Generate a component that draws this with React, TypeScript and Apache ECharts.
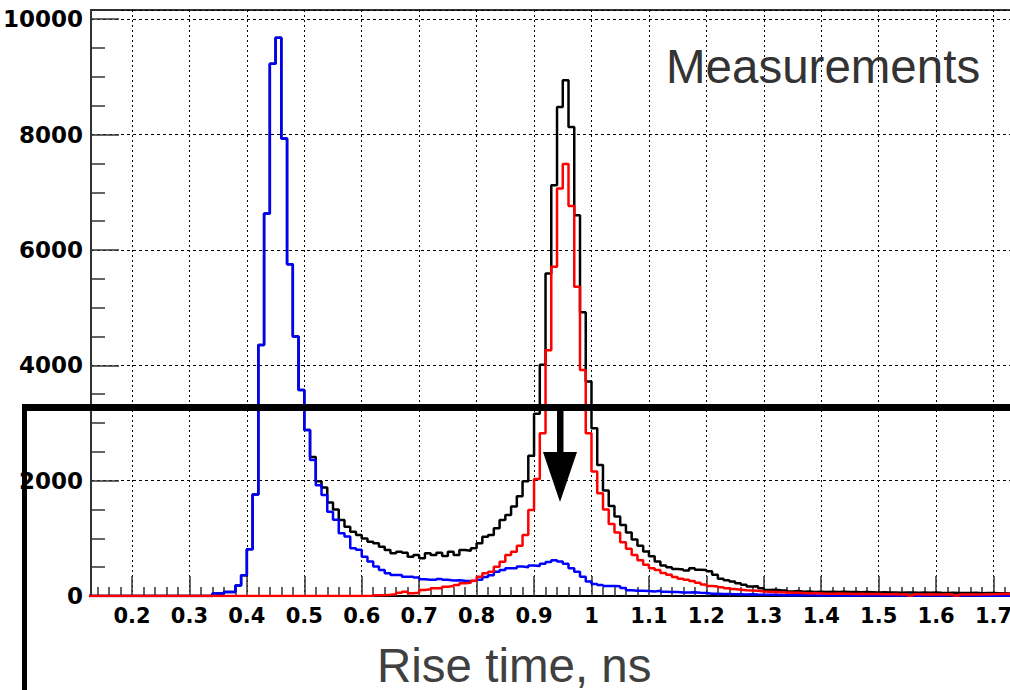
import React, { useEffect, useRef } from "react";
import * as echarts from "echarts";

// Histogram bins: left edge of first bin and bin width (ns)
const BIN_START = 0.12;
const BIN_WIDTH = 0.01;

// Black histogram (all events), bins 0.12 .. 1.79
const blackCounts = [
  0, 0, 0, 0, 0, 0, 0, 0, 0, 0, // 0.12
  0, 0, 0, 0, 0, 0, 0, 0, 0, 0, // 0.22
  0, 0, 45, 45, 70, 70, 180, 360, 810, 1760, // 0.32
  4350, 6630, 9230, 9680, 7930, 5750, 4500, 3570, 2880, 2410, // 0.42
  1990, 1880, 1620, 1500, 1317, 1202, 1115, 1057, 999, 942, // 0.52
  913, 855, 797, 740, 768, 751, 682, 711, 653, 740, // 0.62
  711, 750, 693, 768, 711, 797, 786, 826, 913, 1028, // 0.72
  1057, 1173, 1317, 1404, 1550, 1730, 1990, 2430, 3160, 4010, // 0.82
  5590, 7120, 8480, 8940, 8130, 6600, 4920, 3720, 2910, 2270, // 0.92
  1830, 1560, 1380, 1230, 1100, 980, 870, 770, 690, 600, // 1.02
  530, 500, 470, 460, 440, 480, 455, 450, 430, 370, // 1.12
  300, 275, 250, 220, 195, 165, 170, 135, 105, 110, // 1.22
  100, 95, 80, 85, 75, 80, 70, 75, 70, 75, // 1.32
  70, 72, 68, 70, 65, 70, 66, 62, 65, 60, // 1.42
  62, 58, 62, 60, 58, 60, 55, 60, 55, 52, // 1.52
  58, 54, 50, 52, 55, 48, 50, 52, 46, 48, // 1.62
  45, 48, 42, 45, 40, 45, 42, 40, // 1.72
];

// Blue histogram
const blueCounts = [
  0, 0, 0, 0, 0, 0, 0, 0, 0, 0, // 0.12
  0, 0, 0, 0, 0, 0, 0, 0, 0, 0, // 0.22
  0, 0, 45, 45, 70, 70, 180, 360, 810, 1760, // 0.32
  4350, 6630, 9230, 9680, 7930, 5750, 4500, 3570, 2880, 2360, // 0.42
  1920, 1750, 1460, 1320, 1090, 1030, 830, 800, 680, 600, // 0.52
  510, 450, 395, 365, 365, 335, 335, 320, 290, 280, // 0.62
  280, 295, 280, 270, 275, 265, 260, 265, 280, 330, // 0.72
  360, 420, 450, 480, 480, 510, 500, 530, 520, 560, // 0.82
  590, 620, 600, 560, 480, 420, 335, 250, 210, 190, // 0.92
  175, 175, 170, 140, 100, 90, 90, 85, 80, 90, // 1.02
  75, 70, 70, 60, 60, 65, 55, 50, 40, 38, // 1.12
  35, 35, 30, 32, 28, 30, 25, 22, 20, 20, // 1.22
  18, 15, 18, 15, 12, 15, 12, 10, 12, 10, // 1.32
  12, 8, 10, 10, 8, 10, 12, 8, 10, 8, // 1.42
  10, 8, 10, 8, 6, 8, 10, 8, 6, 8, // 1.52
  8, 6, 8, 10, 8, 6, 8, 6, 8, 6, // 1.62
  5, 8, 6, 5, 6, 8, 5, 6, // 1.72
];

// Red histogram
const redCounts = [
  0, 0, 0, 0, 0, 0, 0, 0, 0, 0, // 0.12
  0, 0, 0, 0, 0, 0, 0, 0, 0, 0, // 0.22
  0, 0, 0, 0, 0, 0, 0, 0, 0, 0, // 0.32
  0, 0, 0, 0, 0, 0, 0, 0, 0, 0, // 0.42
  0, 0, 0, 0, 0, 0, 0, 0, 0, 0, // 0.52
  15, 15, 20, 30, 58, 75, 46, 58, 104, 115, // 0.62
  133, 133, 162, 173, 190, 220, 230, 266, 335, 393, // 0.72
  422, 508, 595, 711, 768, 870, 1057, 1490, 2030, 2820, // 0.82
  4260, 5710, 7065, 7490, 6760, 5360, 3920, 2820, 2160, 1780, // 0.92
  1500, 1250, 1100, 930, 820, 710, 620, 540, 480, 450, // 1.02
  400, 370, 330, 300, 280, 260, 230, 200, 175, 165, // 1.12
  150, 135, 120, 110, 100, 95, 90, 80, 75, 70, // 1.22
  65, 60, 55, 55, 50, 45, 50, 45, 40, 40, // 1.32
  42, 38, 40, 35, 38, 35, 33, 35, 30, 32, // 1.42
  35, 28, 30, 8, 30, 28, 32, 26, 28, 30, // 1.52
  25, 10, 28, 26, 24, 28, 30, 32, 35, 38, // 1.62
  35, 40, 38, 42, 40, 38, 42, 40, // 1.72
];

const X_MIN = 0.1287;
const X_MAX = 1.8;
const Y_MAX = 10160;
const X_TITLE = "Rise time, ns";
const LABEL_TEXT = "Measurements";

function toSteps(values: number[]): [number, number][] {
  const pts: [number, number][] = values.map((v, i) => [
    Math.round((BIN_START + i * BIN_WIDTH) * 1000) / 1000,
    v,
  ]);
  const n = values.length;
  pts.push([Math.round((BIN_START + n * BIN_WIDTH) * 1000) / 1000, values[n - 1]]);
  return pts;
}

export default function App() {
  const ref = useRef<HTMLDivElement>(null);

  useEffect(() => {
    document.body.style.margin = "0";
    if (!ref.current) return;
    const chart = echarts.init(ref.current, undefined, { renderer: "svg" });
    const axisColor = "#333";
    const labelFont = {
      fontFamily: "DejaVu Sans",
      fontWeight: "bold" as const,
      color: "#000",
    };
    const mkSeries = (name: string, data: number[], color: string) => ({
      name,
      type: "line" as const,
      step: "end" as const,
      symbol: "none",
      clip: true,
      data: toSteps(data),
      lineStyle: { color, width: 2.5 },
      itemStyle: { color },
      emphasis: { disabled: true },
    });
    chart.setOption({
      animation: false,
      grid: {
        left: 90,
        top: 10,
        width: 961,
        height: 586,
        show: true,
        borderColor: axisColor,
        borderWidth: 2,
        backgroundColor: "transparent",
      },
      xAxis: {
        type: "value",
        min: X_MIN,
        max: X_MAX,
        splitNumber: 17,
        minInterval: 0.1,
        maxInterval: 0.1,
        axisLine: { show: true, onZero: false, lineStyle: { color: "#000", width: 2 } },
        axisTick: { show: true, inside: true, length: 20, lineStyle: { color: axisColor, width: 1.5 } },
        minorTick: { show: true, splitNumber: 5, length: 9, lineStyle: { color: axisColor, width: 1.5 } },
        splitLine: { show: true, lineStyle: { color: "#000", width: 1, type: [2, 3] } },
        axisLabel: {
          ...labelFont,
          fontSize: 21,
          margin: 9,
          formatter: (v: number) => {
            const k = v * 10;
            if (Math.abs(k - Math.round(k)) > 1e-6) return "";
            if (v > 1.75) return "";
            return String(Math.round(k) / 10);
          },
        },
      },
      yAxis: {
        type: "value",
        min: 0,
        max: Y_MAX,
        splitNumber: 5,
        minInterval: 2000,
        maxInterval: 2000,
        axisLine: { show: true, onZero: false, lineStyle: { color: axisColor, width: 2 } },
        axisTick: { show: true, inside: true, length: 28, lineStyle: { color: axisColor, width: 1.5 } },
        minorTick: { show: true, splitNumber: 4, length: 14, lineStyle: { color: axisColor, width: 1.5 } },
        splitLine: { show: true, lineStyle: { color: "#000", width: 1, type: [3, 3] } },
        axisLabel: {
          ...labelFont,
          fontSize: 23,
          margin: 8,
          formatter: (v: number) => (Math.abs(v % 2000) < 1e-6 ? String(v) : ""),
        },
      },
      series: [
        mkSeries("all", blackCounts, "#000000"),
        mkSeries("blue", blueCounts, "#0000ff"),
        mkSeries("red", redCounts, "#ff0000"),
      ],
      graphic: [
        {
          type: "text",
          x: 666,
          y: 66,
          z: 100,
          style: {
            text: LABEL_TEXT,
            font: '47.5px "Liberation Sans", Arial, sans-serif',
            fill: "#333333",
            textAlign: "left",
            textVerticalAlign: "middle",
          },
        },
        {
          type: "text",
          x: 377,
          y: 665,
          z: 100,
          style: {
            text: X_TITLE,
            font: '47.5px "Liberation Sans", Arial, sans-serif',
            fill: "#404040",
            textAlign: "left",
            textVerticalAlign: "middle",
          },
        },
        { type: "rect", z: 100, shape: { x: 24, y: 404, width: 1040, height: 7 }, style: { fill: "#000" } },
        { type: "rect", z: 100, shape: { x: 22, y: 404, width: 5, height: 290 }, style: { fill: "#000" } },
        { type: "rect", z: 100, shape: { x: 557, y: 407, width: 6.5, height: 46 }, style: { fill: "#000" } },
        {
          type: "polygon",
          z: 100,
          shape: { points: [[543, 452], [577, 452], [560, 502]] },
          style: { fill: "#000" },
        },
      ],
    });
    return () => chart.dispose();
  }, []);

  return (
    <div
      style={{
        position: "fixed",
        left: 0,
        top: 0,
        width: 1010,
        height: 690,
        overflow: "hidden",
        background: "#fff",
      }}
    >
      <div ref={ref} style={{ width: 1060, height: 690 }} />
    </div>
  );
}
